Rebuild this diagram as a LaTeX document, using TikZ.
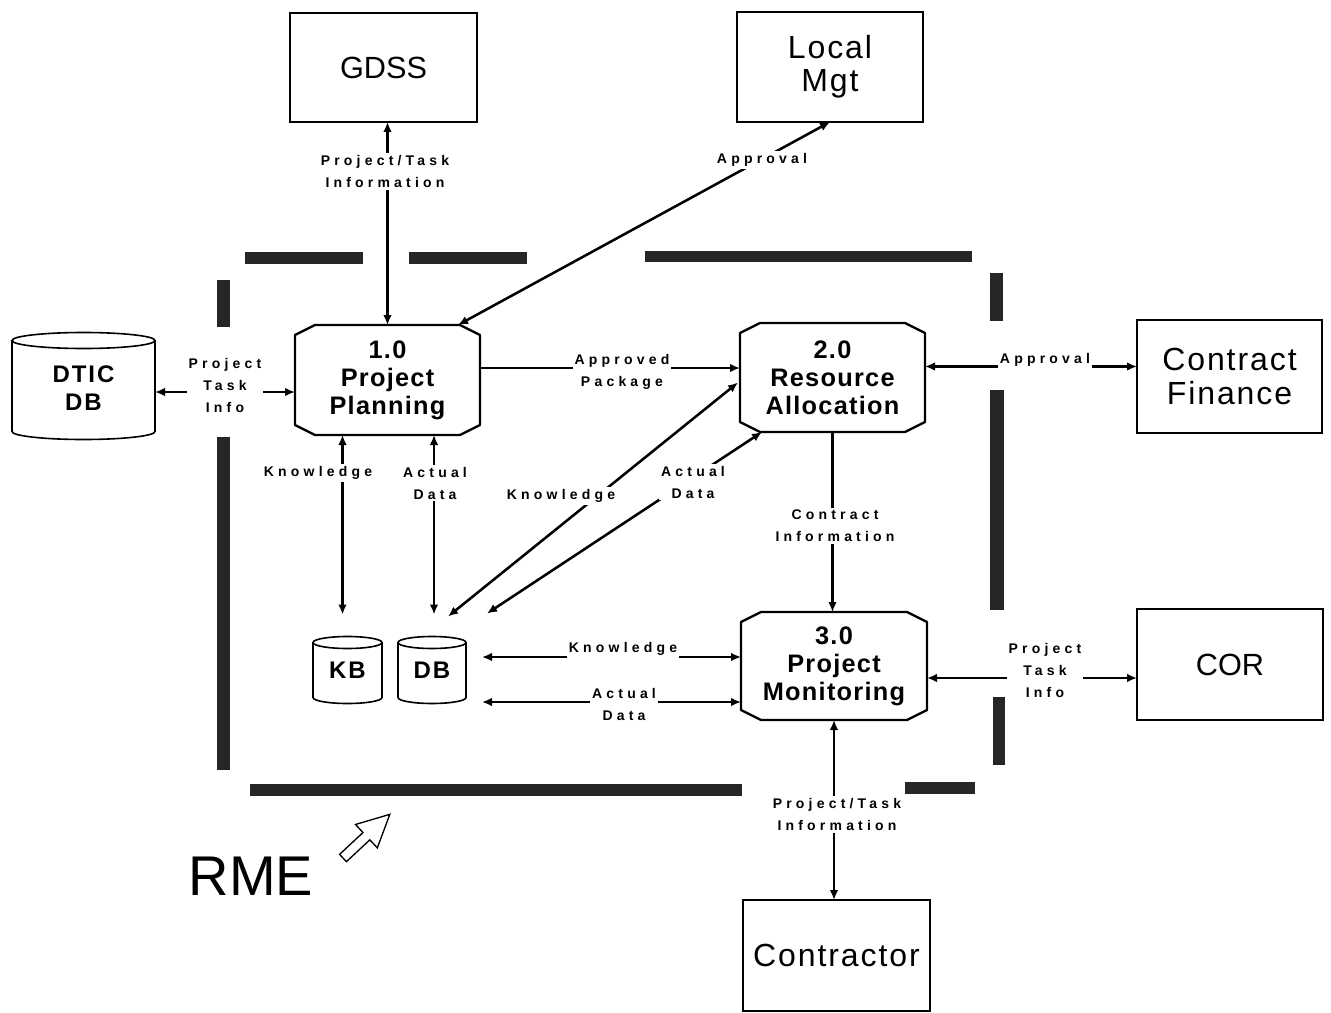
\documentclass[tikz,border=0pt]{standalone}
\usepackage{fontspec}
\setmainfont{Liberation Sans}
\newfontfamily\lblf[LetterSpace=30]{Liberation Sans}
\newfontfamily\procf[LetterSpace=5]{Liberation Sans}
\newfontfamily\bigf[LetterSpace=6]{Liberation Sans}
\newfontfamily\bigcf{Liberation Sans}
\newfontfamily\dbf[LetterSpace=8]{Liberation Sans}
\usetikzlibrary{arrows.meta,calc}
\newcommand\drawcyl[3]{%
  \draw[cylline] ($(#1.north west)+(0,#3)$) -- ($(#1.south west)+(0,-#3)$)
     arc[start angle=180,end angle=360,x radius=#2*0.75pt,y radius=#3*0.75pt]
     -- ($(#1.north east)+(0,#3)$);
  \draw[cylline] ($(#1.north)+(0,#3)$) ellipse[x radius=#2*0.75pt, y radius=#3*0.75pt];
}
\newcommand\drawproc[1]{%
  \draw[procline] ($(#1.north west)+(20,0)$) -- ($(#1.north east)+(-20,0)$)
   -- ($(#1.north east)+(0,10)$) -- ($(#1.south east)+(0,-10)$)
   -- ($(#1.south east)+(-20,0)$) -- ($(#1.south west)+(20,0)$)
   -- ($(#1.south west)+(0,-10)$) -- ($(#1.north west)+(0,10)$) -- cycle;
}
\begin{document}
\begin{tikzpicture}[x=0.75pt,y=-0.75pt,
  >={Latex[length=7.5pt,width=6.5pt]},
  conn/.style={line width=1.9pt},
  box/.style={draw, line width=1.1pt, inner sep=0pt, outer sep=0pt, align=center,
     font={\bigf\fontsize{24}{25}\selectfont}},
  capbox/.style={box, font={\bigcf\fontsize{23}{25}\selectfont}},
  proc/.style={inner sep=0pt, outer sep=0pt, align=center,
     font={\procf\bfseries\fontsize{19}{21}\selectfont}},
  procline/.style={line width=1.7pt, line join=round},
  cyl/.style={inner sep=0pt, outer sep=0pt, align=center,
     font={\dbf\bfseries\fontsize{18}{21}\selectfont}},
  cylline/.style={line width=1.2pt},
  lbl/.style={fill=white, inner sep=1.5pt, align=center,
     font={\lblf\bfseries\fontsize{10.5}{16.5}\selectfont}},
  bar/.style={fill=black!85, draw=none}
]
\useasboundingbox (0,0) rectangle (1331,1013);

% boundary bars
\fill[bar] (245,252) rectangle (363,264);
\fill[bar] (409,252) rectangle (527,264);
\fill[bar] (645,251) rectangle (972,262);
\fill[bar] (217,280) rectangle (230,327);
\fill[bar] (217,437) rectangle (230,770);
\fill[bar] (990,273) rectangle (1003,321);
\fill[bar] (990,390) rectangle (1004,610);
\fill[bar] (993,697) rectangle (1005,765);
\fill[bar] (250,784) rectangle (742,796);
\fill[bar] (905,782) rectangle (975,794);

% external boxes
\node[capbox, minimum width=187*0.75pt, minimum height=109*0.75pt] (gdss) at (383.5,67.5) {GDSS};
\node[box, minimum width=186*0.75pt, minimum height=110*0.75pt] (lm) at (830,67) {Local\\Mgt};
\node[box, minimum width=185*0.75pt, minimum height=113*0.75pt] (cf) at (1229.5,376.5) {Contract\\Finance};
\node[capbox, minimum width=186*0.75pt, minimum height=111*0.75pt] (cor) at (1230,664.5) {COR};
\node[box, minimum width=187*0.75pt, minimum height=111*0.75pt] (con) at (836.5,955.5) {Contractor};

% processes
\node[proc, minimum width=185*0.75pt, minimum height=110*0.75pt] (pp) at (387.5,380) {1.0\\Project\\Planning};
\node[proc, minimum width=185*0.75pt, minimum height=109*0.75pt] (ra) at (832.5,377.5) {2.0\\Resource\\Allocation};
\node[proc, minimum width=186*0.75pt, minimum height=108*0.75pt] (pm) at (834,666) {3.0\\Project\\Monitoring};
\drawproc{pp}
\drawproc{ra}
\drawproc{pm}

% data stores
\node[cyl, minimum width=143*0.75pt, minimum height=107*0.75pt] (dtic) at (83.5,386) {\\[-6pt]DTIC\\DB};
\node[cyl, minimum width=69*0.75pt, minimum height=67*0.75pt] (kb) at (347.5,670) {KB};
\node[cyl, minimum width=68*0.75pt, minimum height=67*0.75pt] (db) at (432,670) {DB};
\drawcyl{dtic}{71.5}{8}
\drawcyl{kb}{34.5}{6}
\drawcyl{db}{34}{6}

% connectors
\draw[conn,<->] (pp.north) -- (pp.north |- gdss.south);
\draw[conn,<->] ($(pp.north east)+(-22,0)$) -- (lm.south);
\coordinate (c1) at ($(pp.west)+(0,12)$);
\draw[conn,<->] (c1 -| dtic.east) -- (c1);
\coordinate (c2) at ($(pp.east)+(0,-12)$);
\draw[conn,->] (c2) -- (c2 -| ra.west);
\coordinate (c3) at ($(ra.east)+(0,-11)$);
\draw[conn,<->] (c3) -- (c3 -| cf.west);
\draw[conn,->] (ra.south) -- (ra.south |- pm.north);
\coordinate (c4) at ($(pm.east)+(0,12)$);
\draw[conn,<->] (c4) -- (c4 -| cor.west);
\draw[conn,<->] (pm.south) -- (pm.south |- con.north);
\coordinate (c5) at ($(kb.north)+(-5,-22)$);
\draw[conn,<->] (c5 |- pp.south) -- (c5);
\coordinate (c6) at ($(db.north)+(2,-22)$);
\draw[conn,<->] (c6 |- pp.south) -- (c6);
\draw[conn,<->] ($(db.north east)+(-18,-20)$) -- ($(ra.west)+(-2,5)$);
\draw[conn,<->] ($(db.north east)+(21,-23)$) -- ($(ra.south west)+(22,0)$);
\coordinate (c7) at ($(pm.west)+(0,-9)$);
\draw[conn,<->] ($(c7 -| db.east)+(16,0)$) -- (c7);
\coordinate (c8) at ($(pm.west)+(0,36)$);
\draw[conn,<->] ($(c8 -| db.east)+(16,0)$) -- (c8);

% labels
\node[lbl] (l1) at (385,171.5) {Project/Task\\Information};
\node[lbl] (l2) at (762,160) {Approval};
\node[lbl] (l3) at (225,385) {Project\\Task\\Info};
\node[lbl] (l4) at (622,372) {Approved\\Package};
\node[lbl] (l5) at (1045,360) {Approval};
\node[lbl] (l6) at (318,473) {Knowledge};
\node[lbl] (l7) at (435,483) {Actual\\Data};
\node[lbl] (l8) at (561,496) {Knowledge};
\node[lbl] (l9) at (693,482) {Actual\\Data};
\node[lbl] (l10) at (835,526) {Contract\\Information};
\node[lbl] (l11) at (623,649) {Knowledge};
\node[lbl] (l12) at (624,704) {Actual\\Data};
\node[lbl] (l13) at (1045,670) {Project\\Task\\Info};
\node[lbl] (l14) at (837,814.5) {Project/Task\\Information};

% RME
\node[inner sep=0pt, font={\fontsize{42}{42}\selectfont}] (rme) at (251,876) {RME};
\begin{scope}[shift={(343,858)}, x=0.75pt, y=0.75pt, rotate=43]
  \draw[line width=1pt, line join=miter] (0,-5) -- (32,-5) -- (32,-16) -- (64,0) -- (32,16) -- (32,5) -- (0,5) -- cycle;
\end{scope}
\end{tikzpicture}
\end{document}
